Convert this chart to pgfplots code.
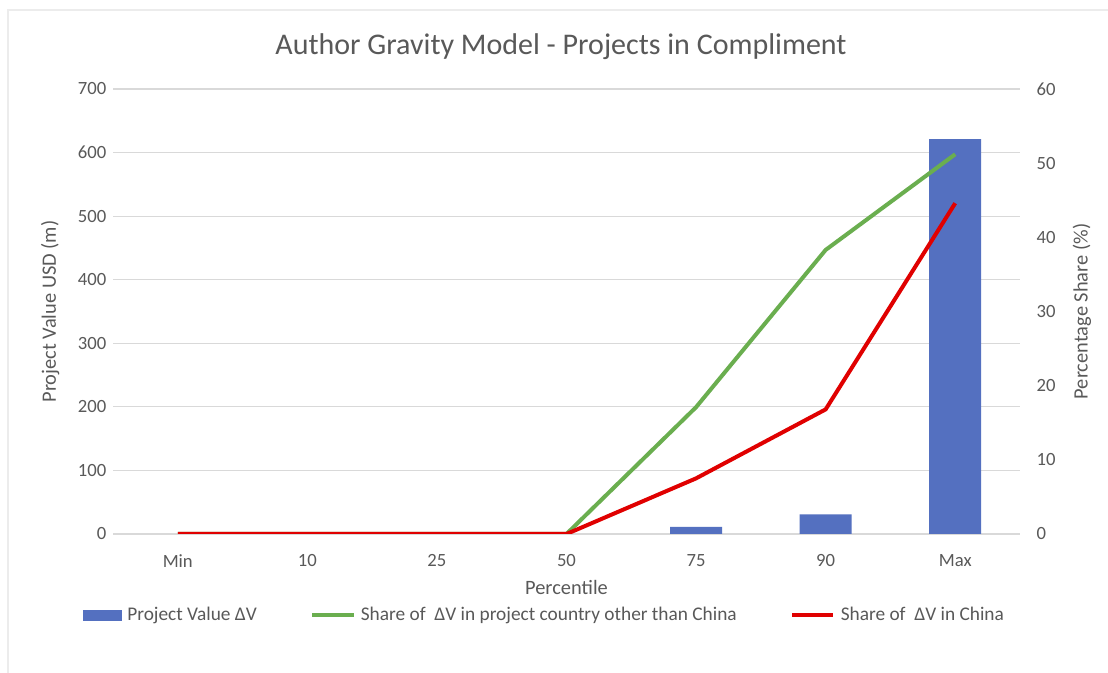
\documentclass[border=0pt]{standalone}
\usepackage{pgfplots}
\pgfplotsset{compat=1.18}
\usepackage{fontspec}
\setmainfont{Carlito}
\definecolor{barblue}{HTML}{5470C0}
\definecolor{lgreen}{HTML}{6AAE4F}
\definecolor{lred}{HTML}{E00000}
\definecolor{txt}{HTML}{595959}
\definecolor{grd}{HTML}{D9D9D9}
\begin{document}
\begin{tikzpicture}
\useasboundingbox (0pt,0pt) rectangle (831pt,504.75pt);
\fill[white] (0pt,0pt) rectangle (831pt,504.75pt);
\draw[gray!15,line width=1.5pt] (6pt,0pt) -- (6pt,497.25pt) -- (831pt,497.25pt);
\node[txt,font=\fontsize{22.5}{26}\selectfont] at (420.75pt,470pt) {Author Gravity Model - Projects in Compliment};
\begin{axis}[
  at={(84.75pt,104.25pt)}, anchor=south west,
  scale only axis, width=680.25pt, height=333.75pt,
  xmin=-0.5, xmax=6.5, ymin=0, ymax=700,
  xtick={0,...,6}, xticklabels={Min,10,25,50,75,90,Max},
  ytick={0,100,...,700},
  axis line style={draw=none}, tick style={draw=none},
  ymajorgrids, grid style={grd, line width=0.9pt},
  axis y line*=left, axis x line*=bottom,
  ticklabel style={font=\fontsize{14}{16}\selectfont, txt},
  /pgf/number format/assume math mode=true,
  yticklabel style={xshift=-1.5pt},
  xticklabel style={yshift=-12pt},
  ylabel={Project Value USD (m)}, xlabel={Percentile},
  label style={font=\fontsize{15.3}{17}\selectfont, txt},
  ylabel style={yshift=7pt},
  xlabel style={yshift=-3pt},
]
\addplot[ybar, bar width=39pt, fill=barblue, draw=none] coordinates {
(4,11) (5,31) (6,621)};
\end{axis}
\begin{axis}[
  at={(84.75pt,104.25pt)}, anchor=south west,
  scale only axis, width=680.25pt, height=333.75pt,
  xmin=-0.5, xmax=6.5, ymin=0, ymax=60,
  ytick={0,10,...,60},
  axis y line*=right, hide x axis,
  axis line style={draw=none}, tick style={draw=none},
  ticklabel style={font=\fontsize{14}{16}\selectfont, txt},
  /pgf/number format/assume math mode=true,
  yticklabel style={xshift=9pt},
  ylabel={Percentage Share (\%)},
  label style={font=\fontsize{15.3}{17}\selectfont, txt},
  ylabel style={yshift=-6pt},
  legend style={at={(-0.038,-0.182)}, anchor=west, draw=none, fill=none,
    font=\fontsize{14.5}{16}\selectfont, text=txt, legend columns=3,
    /tikz/every odd column/.append style={column sep=2pt},
    /tikz/every even column/.append style={column sep=38pt}},
  legend cell align=left,
  legend image code/.code={\draw[#1] (0pt,0pt) -- (31pt,0pt);},
]
\addlegendimage{legend image code/.code={\fill[barblue] (0pt,-3.75pt) rectangle (29pt,3.75pt);}}
\addlegendentry{Project Value ΔV}
\addplot[lgreen, line width=3pt] coordinates {
(0,0) (1,0) (2,0) (3,0) (4,17.1) (5,38.3) (6,51.2)};
\addlegendentry{Share of \ ΔV in project country other than China}
\addplot[lred, line width=3pt] coordinates {
(0,0) (1,0) (2,0) (3,0) (4,7.5) (5,16.8) (6,44.6)};
\addlegendentry{Share of \ ΔV in China}
\end{axis}
\end{tikzpicture}
\end{document}
